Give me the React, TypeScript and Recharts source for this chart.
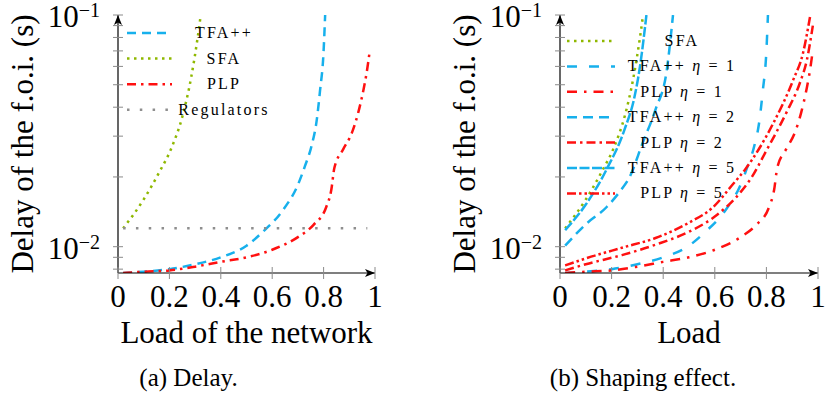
import React from 'react'
import { LineChart, Line, XAxis, YAxis, Legend, Label } from 'recharts'

const SERIF = 'Liberation Serif'
const serifStyle = { fontFamily: SERIF }

const BLUE = '#17b0ec'
const RED = '#ff1010'
const GREEN = '#8fb800'
const GRAY = '#8e8e8e'

// axes
const loadTicks = [0, 0.2, 0.4, 0.6, 0.8, 1]
const delayTicks = [0.008, 0.009, 0.01, 0.02, 0.03, 0.04, 0.05, 0.06, 0.07, 0.08, 0.09, 0.1]
const delayDomain = [0.0077, 0.1]

// SFA
const sfaLoad = [0.02, 0.1, 0.16, 0.21, 0.25, 0.285, 0.31, 0.322]
const sfaDelay = [0.012, 0.016, 0.0209, 0.027, 0.0363, 0.054, 0.08, 0.1]

// regulators (constant)
const regLoad = [0.02, 0.97]
const regDelay = [0.012, 0.012]

// TFA++ (eta = 1)
const tfaLoad = [0.02, 0.1, 0.2, 0.3, 0.4, 0.5, 0.56, 0.64, 0.7, 0.727, 0.753, 0.773, 0.786, 0.8, 0.806]
const tfaDelay = [0.0077, 0.0078, 0.008, 0.0084, 0.009, 0.0101, 0.0115, 0.0143, 0.0185, 0.0222, 0.0272, 0.035, 0.047, 0.07, 0.1]

// PLP (eta = 1)
const plpLoad = [0.02, 0.1, 0.2, 0.3, 0.4, 0.5, 0.6, 0.7, 0.76, 0.81, 0.83, 0.842, 0.876, 0.91, 0.935, 0.955, 0.968, 0.98]
const plpDelay = [0.0077, 0.0078, 0.0079, 0.0082, 0.0086, 0.009, 0.0097, 0.011, 0.0124, 0.0148, 0.0176, 0.0219, 0.0263, 0.031, 0.038, 0.0475, 0.0568, 0.0706]

// TFA++ eta = 2 / 5
const tfa2Load = [0.02, 0.1, 0.18, 0.23, 0.27, 0.32, 0.37, 0.414, 0.438]
const tfa2Delay = [0.0101, 0.0125, 0.0148, 0.0172, 0.02, 0.028, 0.039, 0.058, 0.1]
const tfa5Load = [0.02, 0.1, 0.18, 0.25, 0.29, 0.31, 0.335]
const tfa5Delay = [0.0118, 0.0152, 0.0215, 0.032, 0.045, 0.06, 0.1]

// PLP eta = 2 / 5
const plp2Load = [0.02, 0.1, 0.24, 0.37, 0.5, 0.6, 0.7, 0.74, 0.8, 0.878, 0.93, 0.957, 0.98]
const plp2Delay = [0.0079, 0.0084, 0.0092, 0.0102, 0.0116, 0.0135, 0.0172, 0.0197, 0.026, 0.038, 0.051, 0.064, 0.09]
const plp5Load = [0.02, 0.1, 0.24, 0.37, 0.5, 0.59, 0.67, 0.717, 0.826, 0.904, 0.942, 0.969]
const plp5Delay = [0.0083, 0.0089, 0.0099, 0.0109, 0.0127, 0.0147, 0.0186, 0.0215, 0.034, 0.0525, 0.0686, 0.098]

const zip = (xs: number[], ys: number[]) => xs.map((x, i) => ({ load: x, delay: ys[i] }))

type Series = { name: string; eta?: number; color: string; dash: string; data: { load: number; delay: number }[] }

const delaySeries: Series[] = [
  { name: 'TFA++', color: BLUE, dash: '9 6', data: zip(tfaLoad, tfaDelay) },
  { name: 'SFA', color: GREEN, dash: '2.5 4.5', data: zip(sfaLoad, sfaDelay) },
  { name: 'PLP', color: RED, dash: '9 5 2.5 5', data: zip(plpLoad, plpDelay) },
  { name: 'Regulators', color: GRAY, dash: '2.5 10.3', data: zip(regLoad, regDelay) },
]

const shapingSeries: Series[] = [
  { name: 'SFA', color: GREEN, dash: '2.5 4.5', data: zip(sfaLoad, sfaDelay) },
  { name: 'TFA++', eta: 1, color: BLUE, dash: '10 12', data: zip(tfaLoad, tfaDelay) },
  { name: 'PLP', eta: 1, color: RED, dash: '10 7 2.5 7', data: zip(plpLoad, plpDelay) },
  { name: 'TFA++', eta: 2, color: BLUE, dash: '10 6', data: zip(tfa2Load, tfa2Delay) },
  { name: 'PLP', eta: 2, color: RED, dash: '9 4 2.5 4', data: zip(plp2Load, plp2Delay) },
  { name: 'TFA++', eta: 5, color: BLUE, dash: '10 2.5', data: zip(tfa5Load, tfa5Delay) },
  { name: 'PLP', eta: 5, color: RED, dash: '9 3 2.5 3 2.5 3', data: zip(plp5Load, plp5Delay) },
]

// force the LaTeX-like serif face over any stylesheet default
const fontCss = `
#fig text, #fig tspan, #fig .cm { font-family: 'Liberation Serif', 'Times New Roman', serif !important; }
`

function DelayTick({ x, y, payload }: any) {
  const v = payload.value
  const exp = Math.abs(v - 0.1) < 1e-9 ? '−1' : Math.abs(v - 0.01) < 1e-9 ? '−2' : null
  return (
    <g>
      <line x1={x - 5} x2={x + 5} y1={y} y2={y} stroke="#8a8a8a" strokeWidth={1} />
      {exp && (
        <text className="cm" x={x - 18} y={y + 12} textAnchor="end" fontFamily={SERIF} style={serifStyle} fontSize={31} fill="#000">
          10<tspan dy={-10} fontSize={20}>{exp}</tspan>
        </text>
      )}
    </g>
  )
}

function LoadTick({ x, y, payload }: any) {
  return (
    <g>
      <line x1={x} x2={x} y1={y - 6} y2={y + 6} stroke="#8a8a8a" strokeWidth={1} />
      <text className="cm" x={x} y={y + 34} textAnchor="middle" fontFamily={SERIF} style={serifStyle} fontSize={31} fill="#000">
        {payload.value}
      </text>
    </g>
  )
}

function LegendBox({ items, width, lineTo, textX, gap }: { items: Series[]; width: number; lineTo: number; textX: number; gap: number }) {
  return (
    <svg width={width} height={items.length * gap + 10}>
      {items.map((s, i) => {
        const cy = 13 + i * gap
        return (
          <g key={i}>
            <line x1={7} x2={lineTo} y1={cy} y2={cy} stroke={s.color} strokeWidth={2.5} strokeDasharray={s.dash} />
            <text className="cm" x={textX} y={cy + 5} textAnchor="middle" fontFamily={SERIF} style={serifStyle} fontSize={16} letterSpacing={2.2} fill="#000">
              {s.name}
              {s.eta !== undefined && (
                <>
                  {'  '}
                  <tspan fontStyle="italic">η</tspan>
                  {'  =  '}
                  {s.eta}
                </>
              )}
            </text>
          </g>
        )
      })}
    </svg>
  )
}

function Panel(props: {
  left: number; width: number; axisWidth: number; right: number
  series: Series[]; xTitle: string; caption: string; captionShift: number
  legendLeft: number; legendTop: number; legendWidth: number; legendLineTo: number; legendTextX: number; legendGap: number
}) {
  const { left, width, axisWidth, right, series, xTitle, caption, captionShift } = props
  return (
    <div style={{ position: 'absolute', left, top: 0 }}>
      <LineChart width={width} height={396} margin={{ top: 15, right, bottom: 83, left: 0 }}>
        <XAxis
          type="number"
          dataKey="load"
          domain={[0, 1]}
          ticks={loadTicks}
          interval={0}
          height={40}
          tickSize={0}
          tickMargin={0}
          tickLine={false}
          tick={<LoadTick />}
          axisLine={{ stroke: '#000', strokeWidth: 1.2, markerEnd: 'url(#axis-arrow)' }}
        >
          <Label
            content={({ viewBox }: any) => {
              const cx = viewBox.x + viewBox.width / 2
              return (
                <g fill="#000">
                  <text className="cm" x={cx} y={viewBox.y + 70} textAnchor="middle" fontFamily={SERIF} style={serifStyle} fontSize={31}>{xTitle}</text>
                  <text className="cm" x={cx + captionShift} y={viewBox.y + 113} textAnchor="middle" fontFamily={SERIF} style={serifStyle} fontSize={25}>{caption}</text>
                </g>
              )
            }}
          />
        </XAxis>
        <YAxis
          type="number"
          scale="log"
          domain={delayDomain}
          allowDataOverflow
          ticks={delayTicks}
          interval={0}
          width={axisWidth}
          tickSize={0}
          tickMargin={0}
          tickLine={false}
          tick={<DelayTick />}
          axisLine={{ stroke: '#000', strokeWidth: 1.2, markerStart: 'url(#axis-arrow)' }}
        >
          <Label
            content={({ viewBox }: any) => {
              const bx = viewBox.x + viewBox.width - 85
              const cy = viewBox.y + viewBox.height / 2
              return (
                <text className="cm" x={bx} y={cy} transform={`rotate(-90, ${bx}, ${cy})`} textAnchor="middle" fontFamily={SERIF} style={serifStyle} fontSize={31} fill="#000">
                  Delay of the f.o.i. (s)
                </text>
              )
            }}
          />
        </YAxis>
        <Legend
          layout="horizontal"
          align="center"
          verticalAlign="middle"
          wrapperStyle={{ left: props.legendLeft, top: props.legendTop, width: props.legendWidth }}
          content={() => (
            <LegendBox items={series} width={props.legendWidth} lineTo={props.legendLineTo} textX={props.legendTextX} gap={props.legendGap} />
          )}
        />
        {series.map((s, i) => (
          <Line
            key={i}
            data={s.data}
            dataKey="delay"
            name={s.eta !== undefined ? `${s.name} η = ${s.eta}` : s.name}
            type="monotone"
            stroke={s.color}
            strokeWidth={2.5}
            strokeDasharray={s.dash}
            dot={false}
            activeDot={false}
            isAnimationActive={false}
          />
        ))}
      </LineChart>
    </div>
  )
}

export default function App() {
  return (
    <div id="fig" style={{ position: 'absolute', left: 0, top: 0, width: 825, height: 396, background: '#fff', fontFamily: SERIF }}>
      <style>{fontCss}</style>
      <svg width={0} height={0} style={{ position: 'absolute' }}>
        <defs>
          <marker id="axis-arrow" viewBox="0 0 10 8" refX={10} refY={4} markerWidth={10} markerHeight={8} markerUnits="userSpaceOnUse" orient="auto-start-reverse">
            <path d="M0,0 L10,4 L0,8 L2.5,4 Z" fill="#000" />
          </marker>
        </defs>
      </svg>
      <Panel
        left={0} width={400} axisWidth={118} right={25}
        series={delaySeries} xTitle="Load of the network" caption="(a) Delay." captionShift={-58}
        legendLeft={120} legendTop={20} legendWidth={180} legendLineTo={52} legendTextX={104} legendGap={25.6}
      />
      <Panel
        left={420} width={405} axisWidth={140} right={7}
        series={shapingSeries} xTitle="Load" caption="(b) Shaping effect." captionShift={-46}
        legendLeft={140} legendTop={28} legendWidth={210} legendLineTo={55} legendTextX={122} legendGap={25.4}
      />
    </div>
  )
}
